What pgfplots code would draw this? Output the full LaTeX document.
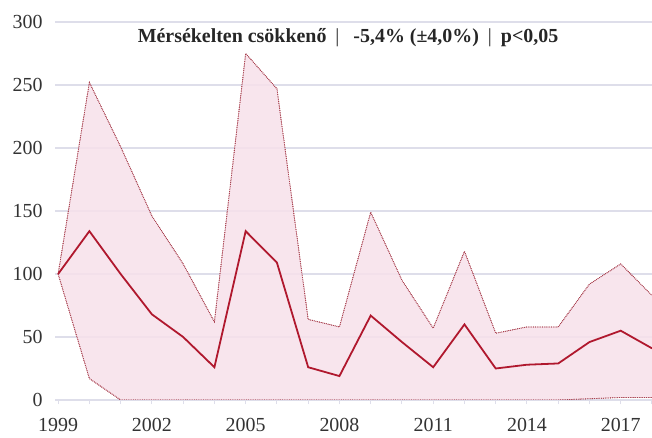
\documentclass[border=0pt]{standalone}
\usepackage{fontspec}
\setmainfont{Liberation Serif}
\usepackage{pgfplots}
\pgfplotsset{compat=1.18}
\usepgfplotslibrary{fillbetween}
\usepackage{pgfplotstable}
\definecolor{medline}{HTML}{B0182E}
\definecolor{bandfill}{HTML}{F7E1EA}
\definecolor{bandedge}{HTML}{A8404F}
\definecolor{gridc}{HTML}{DEDEEA}
\definecolor{tickc}{HTML}{333333}
\pgfplotstableread{
year median upper lower
1999 100 100 100
2000 134 252 17
2001 100 201 0
2002 68 146 0
2003 50 108 0
2004 26 62 0
2005 134 275 0
2006 109 247 0
2007 26 64 0
2008 19 58 0
2009 67 149 0
2010 46 95 0
2011 26 57 0
2012 60 118 0
2013 25 53 0
2014 28 58 0
2015 29 58 0
2016 46 92 1
2017 55 108 2
2018 41 83 2
}\datatable
\begin{document}
\begin{tikzpicture}
\begin{axis}[
  at={(55bp,38bp)}, anchor=south west,
  scale only axis, width=597bp, height=378bp,
  xmin=1998.9, xmax=2018, ymin=0, ymax=300,
  axis x line*=bottom, axis y line*=left,
  axis line style={draw=none},
  ytick={0,50,...,300},
  ymajorgrids, grid style={gridc, line width=1.1pt},
  xtick={1999,2002,...,2017},
  minor xtick={2000,...,2018},
  tick align=outside,
  major tick length=4bp, minor tick length=4bp,
  xtick style={gridc, line width=1pt},
  minor tick style={gridc, line width=1pt},
  ytick style={draw=none},
  x tick label style={/pgf/number format/1000 sep={}, yshift=-11bp},
  y tick label style={xshift=-5bp},
  tick label style={font=\fontsize{20}{22}\selectfont, text=tickc},
  /pgf/number format/assume math mode=true,
]
\addplot[name path=up, bandedge, densely dotted, line width=0.8pt] table[x=year,y=upper]{\datatable};
\addplot[name path=lo, bandedge, densely dotted, line width=0.8pt] table[x=year,y=lower]{\datatable};
\addplot[bandfill, opacity=0.85] fill between[of=up and lo];
\addplot[bandedge, densely dotted, line width=0.8pt] table[x=year,y=upper]{\datatable};
\addplot[bandedge, densely dotted, line width=0.8pt] table[x=year,y=lower]{\datatable};
\addplot[medline, line width=1.8pt] table[x=year,y=median]{\datatable};
\end{axis}
\node[text=black!85, font=\bfseries\fontsize{20}{23}\selectfont] at (348bp,400bp) {Mérsékelten csökkenő\hspace{9bp}{\mdseries|}\hspace{14bp}-5,4\% (±4,0\%)\hspace{9bp}{\mdseries|}\hspace{9bp}p<0,05};
\pgfresetboundingbox
\useasboundingbox (0,0) rectangle (652bp,438bp);
\end{tikzpicture}
\end{document}
